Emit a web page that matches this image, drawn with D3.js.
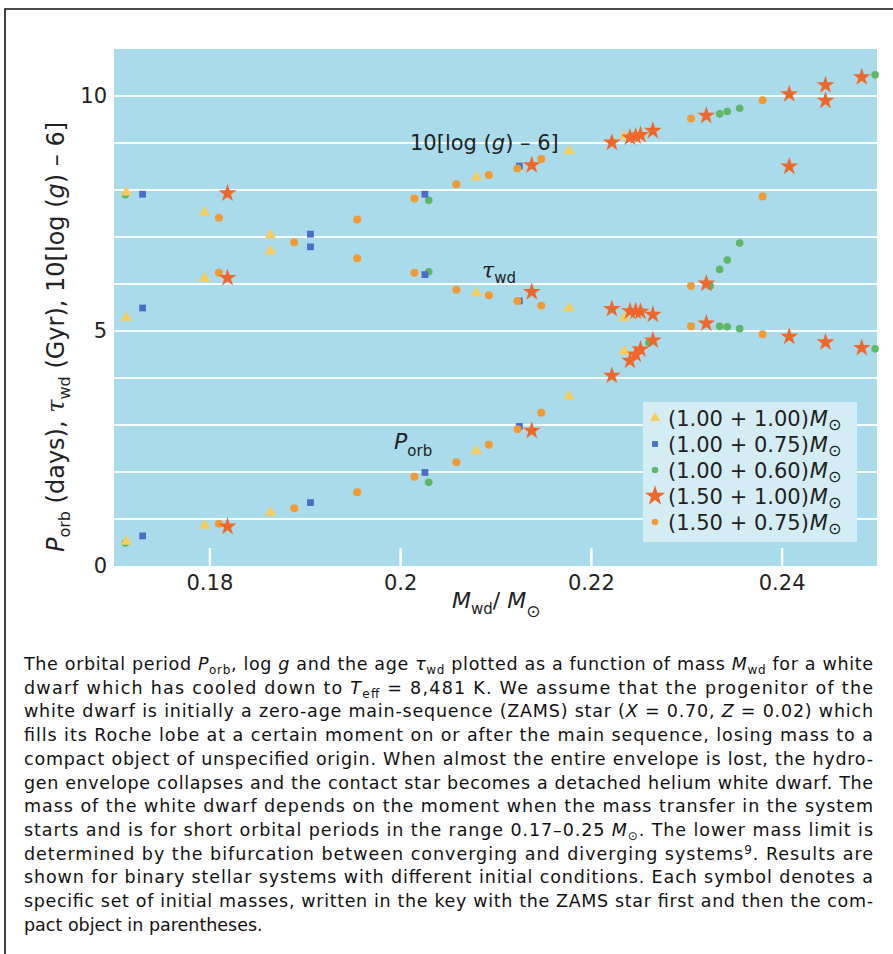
<!DOCTYPE html>
<html>
<head>
<meta charset="utf-8">
<script src="https://cdn.jsdelivr.net/npm/d3@7"></script>
<style>
  body { margin: 0; background: #fff; }
  svg { display: block; font-family: "DejaVu Sans", "Liberation Sans", sans-serif; }
</style>
</head>
<body>
<script>
// white dwarf mass vs P_orb, tau_wd and 10[log g - 6], five sets of initial masses

// (1.00 + 1.00) Msun - triangles
var triMass = [0.1713, 0.1795, 0.1864, 0.2080, 0.2177, 0.2235];
var triPorb = [0.52, 0.86, 1.14, 2.45, 3.61, 4.57];
var triTau  = [5.28, 6.12, 6.70, 5.81, 5.49, 5.28];
var triLogg = [7.95, 7.52, 7.04, 8.27, 8.83, 9.15];

// (1.00 + 0.75) Msun - squares
var sqMass = [0.1730, 0.1906, 0.2026, 0.2125];
var sqPorb = [0.64, 1.35, 1.99, 2.97];
var sqTau  = [5.49, 6.79, 6.20, 5.64];
var sqLogg = [7.91, 7.06, 7.91, 8.51];

// (1.00 + 0.60) Msun - green dots (null = hidden / off chart)
var grMass = [0.1712, 0.2030, 0.2261, 0.2325, 0.2335, 0.2343, 0.2356, 0.2498];
var grPorb = [0.49, 1.78, 4.75, 5.96, 6.31, 6.51, 6.87, null];
var grTau  = [null, 6.26, null, null, 5.10, 5.09, 5.05, 4.62];
var grLogg = [7.90, 7.78, null, null, 9.62, 9.67, 9.74, 10.45];

// (1.50 + 1.00) Msun - stars
var stMass = [0.1819, 0.2138, 0.2222, 0.2241, 0.2247, 0.2252, 0.2265, 0.2321, 0.2408, 0.2446, 0.2484];
var stPorb = [0.84, 2.88, 4.05, 4.37, 4.50, 4.61, 4.80, 6.01, 8.50, 9.90, null];
var stTau  = [6.13, 5.83, 5.47, 5.42, 5.42, 5.41, 5.35, 5.16, 4.88, 4.76, 4.64];
var stLogg = [7.93, 8.53, 9.01, 9.12, 9.14, 9.17, 9.26, 9.58, 10.04, 10.23, 10.40];

// (1.50 + 0.75) Msun - orange dots
var orMass = [0.1810, 0.1889, 0.1955, 0.2015, 0.2059, 0.2093, 0.2123, 0.2148, 0.2305, 0.2380];
var orPorb = [0.90, 1.23, 1.57, 1.90, 2.21, 2.58, 2.91, 3.26, 5.96, 7.86];
var orTau  = [6.24, null, 6.55, 6.24, 5.88, 5.76, 5.64, 5.54, 5.10, 4.93];
var orLogg = [7.41, 6.89, 7.37, 7.82, 8.12, 8.32, 8.46, 8.66, 9.52, 9.91];

var xTicks = [0.18, 0.2, 0.22, 0.24];
var xTickLabels = ["0.18", "0.2", "0.22", "0.24"];
var yTicks = [0, 5, 10];
var legendLabels = ["(1.00 + 1.00)", "(1.00 + 0.75)", "(1.00 + 0.60)", "(1.50 + 1.00)", "(1.50 + 0.75)"];

var width = 893, height = 954;

var svg = d3.select("body").append("svg")
    .attr("width", width)
    .attr("height", height);

// frame (left and top rules)
svg.append("path")
    .attr("d", "M5,954 L5,9 L893,9")
    .attr("fill", "none")
    .attr("stroke", "#111")
    .attr("stroke-width", 1.6);

var x = d3.scaleLinear().domain([0.17, 0.25]).range([114, 877]);
var y = d3.scaleLinear().domain([0, 11]).range([566, 49]);

var plot = svg.append("g");

plot.append("rect")
    .attr("x", x(0.17)).attr("y", y(11))
    .attr("width", x(0.25) - x(0.17))
    .attr("height", y(0) - y(11))
    .attr("fill", "#a9dbeb");

// white grid lines every unit
plot.selectAll(".grid")
    .data(d3.range(1, 11))
    .enter().append("line")
    .attr("class", "grid")
    .attr("x1", x(0.17)).attr("x2", x(0.25))
    .attr("y1", function(d){ return y(d); })
    .attr("y2", function(d){ return y(d); })
    .attr("stroke", "#fff")
    .attr("stroke-opacity", 0.9)
    .attr("stroke-width", 1.8);

// x axis: white ticks pointing up into the plot
var xAxis = svg.append("g")
    .attr("transform", "translate(0," + y(0) + ")")
    .call(d3.axisBottom(x).tickValues(xTicks)
        .tickFormat(function(d, i){ return xTickLabels[i]; })
        .tickSizeInner(-18).tickSizeOuter(0).tickPadding(9));
xAxis.select(".domain").remove();
xAxis.selectAll(".tick line").attr("stroke", "#fff").attr("stroke-width", 2.5);
xAxis.selectAll(".tick text")
    .attr("font-size", 21).attr("fill", "#222")
    .attr("font-family", "DejaVu Sans, sans-serif");

var yAxis = svg.append("g")
    .attr("transform", "translate(" + x(0.17) + ",0)")
    .call(d3.axisLeft(y).tickValues(yTicks).tickSize(0).tickPadding(7));
yAxis.select(".domain").remove();
yAxis.selectAll(".tick text")
    .attr("font-size", 21).attr("fill", "#222")
    .attr("font-family", "DejaVu Sans, sans-serif");

// axis titles
var yTitle = svg.append("text")
    .attr("transform", "translate(64,337) rotate(-90)")
    .attr("text-anchor", "middle")
    .attr("font-size", 24).attr("fill", "#222");
yTitle.append("tspan").attr("font-style", "italic").text("P");
yTitle.append("tspan").attr("font-size", 16).attr("dy", 6).text("orb");
yTitle.append("tspan").attr("dy", -6).text(" (days), ");
yTitle.append("tspan").attr("font-style", "italic").attr("font-family", "DejaVu Serif, serif").text("τ");
yTitle.append("tspan").attr("font-size", 16).attr("dy", 6).text("wd");
yTitle.append("tspan").attr("dy", -6).text(" (Gyr), 10[log (");
yTitle.append("tspan").attr("font-style", "italic").text("g");
yTitle.append("tspan").text(") – 6]");

var xTitle = svg.append("text")
    .attr("x", 452).attr("y", 608)
    .attr("font-size", 22).attr("fill", "#222");
xTitle.append("tspan").attr("font-style", "italic").text("M");
xTitle.append("tspan").attr("font-size", 15).attr("dy", 6).text("wd");
xTitle.append("tspan").attr("dy", -6).text("/ ");
xTitle.append("tspan").attr("font-style", "italic").text("M");
xTitle.append("tspan").attr("font-size", 17).attr("dy", 9).text("⊙");

// curve labels
var lgLabel = plot.append("text")
    .attr("x", 410).attr("y", 150)
    .attr("font-size", 21).attr("fill", "#222");
lgLabel.append("tspan").text("10[log (");
lgLabel.append("tspan").attr("font-style", "italic").text("g");
lgLabel.append("tspan").text(") – 6]");

var tauLabel = plot.append("text")
    .attr("x", 482).attr("y", 278)
    .attr("font-size", 22).attr("fill", "#222");
tauLabel.append("tspan").attr("font-style", "italic").attr("font-family", "DejaVu Serif, serif").text("τ");
tauLabel.append("tspan").attr("font-size", 15).attr("dy", 5).text("wd");

var porbLabel = plot.append("text")
    .attr("x", 394).attr("y", 449)
    .attr("font-size", 22).attr("fill", "#222");
porbLabel.append("tspan").attr("font-style", "italic").text("P");
porbLabel.append("tspan").attr("font-size", 15).attr("dy", 7).text("orb");

// series
function points(mass, arrs){
    var out = [];
    arrs.forEach(function(a){
        a.forEach(function(v, i){
            if (v !== null) out.push({m: mass[i], v: v});
        });
    });
    return out;
}

var series = [
    {name: "green",  pts: points(grMass, [grPorb, grTau, grLogg]),    shape: d3.symbolCircle,   size: 46, fill: "#5db766"},
    {name: "square", pts: points(sqMass, [sqPorb, sqTau, sqLogg]),    shape: d3.symbolSquare,   size: 46, fill: "#4a6ec6"},
    {name: "orange", pts: points(orMass, [orPorb, orTau, orLogg]),    shape: d3.symbolCircle,   size: 50, fill: "#f39a34"},
    {name: "tri",    pts: points(triMass, [triPorb, triTau, triLogg]), shape: d3.symbolTriangle, size: 54, fill: "#f7cc5a"},
    {name: "star",   pts: points(stMass, [stPorb, stTau, stLogg]),    shape: d3.symbolStar,     size: 100, fill: "#f0672c"}
];

series.forEach(function(s){
    plot.selectAll(".pt-" + s.name)
        .data(s.pts)
        .enter().append("path")
        .attr("class", "pt-" + s.name)
        .attr("d", d3.symbol().type(s.shape).size(s.size))
        .attr("transform", function(d){ return "translate(" + x(d.m) + "," + y(d.v) + ")"; })
        .attr("fill", s.fill);
});

// legend
var legend = plot.append("g").attr("transform", "translate(643,402)");
legend.append("rect")
    .attr("width", 214).attr("height", 140)
    .attr("fill", "#d4edf4");

var legendOrder = [series[3], series[1], series[0], series[4], series[2]];
var rows = legend.selectAll(".row")
    .data(legendOrder)
    .enter().append("g")
    .attr("class", "row")
    .attr("transform", function(d, i){ return "translate(0," + (16 + i * 26) + ")"; });

rows.append("path")
    .attr("transform", "translate(12,0)")
    .attr("d", function(d){
        var sz = d.name === "star" ? 130 : d.name === "tri" ? 46 : 34;
        return d3.symbol().type(d.shape).size(sz)();
    })
    .attr("fill", function(d){ return d.fill; });

var rowText = rows.append("text")
    .attr("x", 25).attr("y", 8)
    .attr("font-size", 21).attr("fill", "#222");
rowText.append("tspan").text(function(d, i){ return legendLabels[i]; });
rowText.append("tspan").attr("font-style", "italic").attr("dx", 1).text("M");
rowText.append("tspan").attr("font-size", 16).attr("dy", 4).text("⊙");

// caption, one justified line per text element
var captionLines = [
    [["The orbital period "], ["P", "i"], ["orb", "sub"], [", log "], ["g", "i"], [" and the age "], ["τ", "i"], ["wd", "sub"], [" plotted as a function of mass "], ["M", "i"], ["wd", "sub"], [" for a white"]],
    [["dwarf which has cooled down to "], ["T", "i"], ["eff", "sub"], [" = 8,481 K. We assume that the progenitor of the"]],
    [["white dwarf is initially a zero-age main-sequence (ZAMS) star ("], ["X", "i"], [" = 0.70, "], ["Z", "i"], [" = 0.02) which"]],
    [["fills its Roche lobe at a certain moment on or after the main sequence, losing mass to a"]],
    [["compact object of unspecified origin. When almost the entire envelope is lost, the hydro-"]],
    [["gen envelope collapses and the contact star becomes a detached helium white dwarf. The"]],
    [["mass of the white dwarf depends on the moment when the mass transfer in the system"]],
    [["starts and is for short orbital periods in the range 0.17–0.25 "], ["M", "i"], ["⊙", "sub"], [". The lower mass limit is"]],
    [["determined by the bifurcation between converging and diverging systems"], ["9", "sup"], [". Results are"]],
    [["shown for binary stellar systems with different initial conditions. Each symbol denotes a"]],
    [["specific set of initial masses, written in the key with the ZAMS star first and then the com-"]],
    [["pact object in parentheses."]]
];

var caption = svg.append("g");
captionLines.forEach(function(line, li){
    var t = caption.append("text")
        .attr("x", 24)
        .attr("y", 670 + li * 23.7)
        .attr("font-size", 17.5)
        .attr("fill", "#111");
    if (li < captionLines.length - 1) {
        t.attr("textLength", 849).attr("lengthAdjust", "spacing");
    }
    var shift = 0;
    line.forEach(function(seg){
        var sp = t.append("tspan").text(seg[0]);
        var want = seg[1] === "sub" ? 4 : seg[1] === "sup" ? -6 : 0;
        if (want !== shift) { sp.attr("dy", want - shift); shift = want; }
        if (seg[1] === "i") sp.attr("font-style", "italic");
        if (seg[1] === "sub" || seg[1] === "sup") sp.attr("font-size", 12);
    });
});
</script>
</body>
</html>
